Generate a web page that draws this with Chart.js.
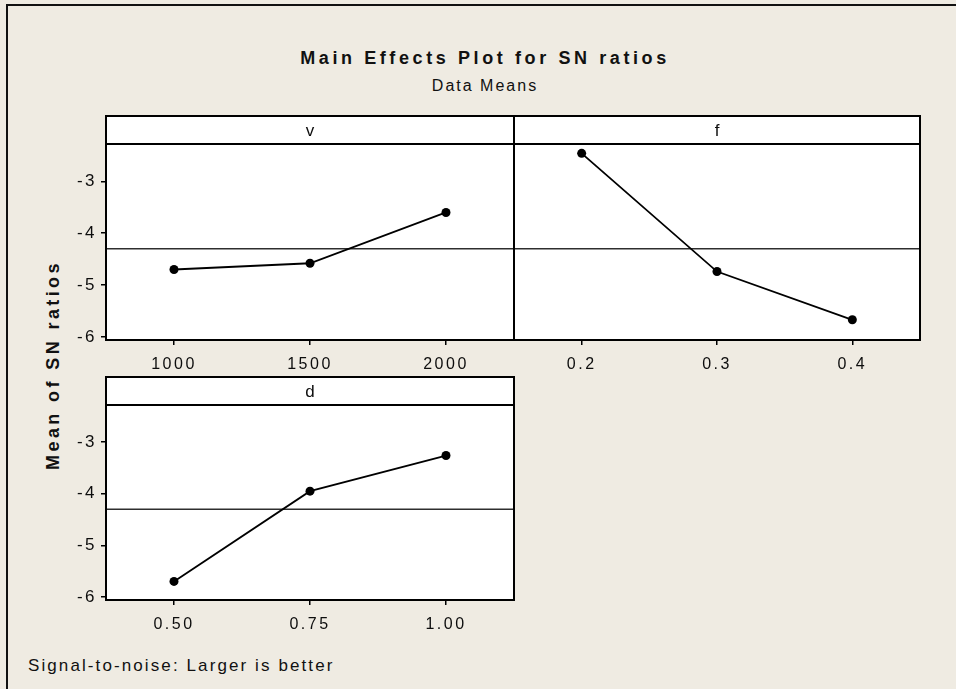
<!DOCTYPE html>
<html>
<head>
<meta charset="utf-8">
<script src="https://cdn.jsdelivr.net/npm/chart.js@4.4.1/dist/chart.umd.min.js"></script>
<style>
  html, body { margin: 0; padding: 0; }
  body {
    width: 956px; height: 689px; position: relative; overflow: hidden;
    background: #EFEBE2; color: #111;
    font-family: 'Liberation Sans', Arial, sans-serif;
  }
  .frame {
    position: absolute; left: 6px; top: 4px; right: -20px; bottom: -20px;
    border-top: 2px solid #111; border-left: 2px solid #111;
  }
  .panel { position: absolute; }
  .txt { position: absolute; white-space: nowrap; line-height: 1; }
  #title { left: 0; width: 970px; top: 49px; text-align: center; font-weight: bold; font-size: 18px; letter-spacing: 3.6px; }
  #subtitle { left: 0; width: 970px; top: 78px; text-align: center; font-size: 16px; letter-spacing: 2px; }
  #ytitle { left: -77px; width: 260px; top: 356px; text-align: center; font-weight: bold; font-size: 18px; letter-spacing: 3.4px; transform: rotate(-90deg); }
  #footer { left: 28px; top: 657px; font-size: 17px; letter-spacing: 2.1px; }
</style>
</head>
<body>
<div class="frame"></div>
<div class="txt" id="title">Main Effects Plot for SN ratios</div>
<div class="txt" id="subtitle">Data Means</div>
<div class="txt" id="ytitle">Mean of SN ratios</div>
<div class="txt" id="footer">Signal-to-noise: Larger is better</div>
<canvas class="panel" id="panel-v"></canvas>
<canvas class="panel" id="panel-f"></canvas>
<canvas class="panel" id="panel-d"></canvas>

<script>
// factor levels and mean SN ratio at each level
const V_LEVELS = [1000, 1500, 2000];
const V_MEANS  = [-4.70, -4.58, -3.60];
const V_TICK_LABELS = ['1000', '1500', '2000'];

const F_LEVELS = [0.2, 0.3, 0.4];
const F_MEANS  = [-2.46, -4.74, -5.67];
const F_TICK_LABELS = ['0.2', '0.3', '0.4'];

const D_LEVELS = [0.50, 0.75, 1.00];
const D_MEANS  = [-5.70, -3.95, -3.26];
const D_TICK_LABELS = ['0.50', '0.75', '1.00'];

const Y_TICKS = [-6, -5, -4, -3];
const Y_TICK_LABELS = ['-6', '-5', '-4', '-3'];
const Y_MIN = -6.06;
const Y_MAX = -2.28;

const GRAND_MEAN = -4.30;

const COLORS = {
  ink:  '#000000',
  mean: '#2e2e2e',
  text: '#0d0d0d',
  plot: '#ffffff',
};

const FONT_FAMILY = "'Liberation Sans', Arial, sans-serif";
const HEADER_H = 28;   // factor name strip above each plot
const AXIS_W = 66;     // room left of the plot for the y labels
const AXIS_H = 40;     // room under the plot for the x labels
const PAD_R = 6;

// white plot + header strip, black frames, factor name
const panelFrame = {
  id: 'panelFrame',
  beforeDraw(chart) {
    const { ctx, chartArea: a } = chart;
    ctx.save();
    ctx.fillStyle = COLORS.plot;
    ctx.fillRect(a.left, a.top - HEADER_H, a.right - a.left, a.bottom - a.top + HEADER_H);
    ctx.restore();
    ctx.letterSpacing = '2.5px';
  },
  afterDraw(chart, args, opts) {
    const { ctx, chartArea: a } = chart;
    ctx.save();
    ctx.letterSpacing = '0px';
    ctx.strokeStyle = COLORS.ink;
    ctx.lineWidth = 2;
    ctx.strokeRect(a.left, a.top - HEADER_H, a.right - a.left, a.bottom - a.top + HEADER_H);
    ctx.beginPath();
    ctx.moveTo(a.left, a.top);
    ctx.lineTo(a.right, a.top);
    ctx.stroke();
    ctx.fillStyle = COLORS.text;
    ctx.font = '17px ' + FONT_FAMILY;
    ctx.textAlign = 'center';
    ctx.textBaseline = 'middle';
    ctx.fillText(opts.label, (a.left + a.right) / 2, a.top - HEADER_H / 2 + 1);
    ctx.restore();
  },
};

function makePanel(id, box, name, levels, means, tickLabels, showY) {
  const canvas = document.getElementById(id);
  const w = AXIS_W + (box.right - box.left) + PAD_R;
  const h = HEADER_H + 6 + (box.bottom - box.top) + AXIS_H;
  canvas.style.left = (box.left - AXIS_W) + 'px';
  canvas.style.top = (box.top - HEADER_H - 6) + 'px';
  canvas.style.width = w + 'px';
  canvas.style.height = h + 'px';

  const step = levels[1] - levels[0];
  const xMin = levels[0] - step / 2;
  const xMax = levels[levels.length - 1] + step / 2;

  return new Chart(canvas, {
    type: 'line',
    data: {
      datasets: [
        {
          data: levels.map((x, i) => ({ x, y: means[i] })),
          borderColor: COLORS.ink,
          borderWidth: 1.8,
          pointRadius: 4.5,
          pointBackgroundColor: COLORS.ink,
          pointBorderWidth: 0,
          order: 0,
        },
        {
          data: [{ x: xMin, y: GRAND_MEAN }, { x: xMax, y: GRAND_MEAN }],
          borderColor: COLORS.mean,
          borderWidth: 1.6,
          pointRadius: 0,
          order: 1,
        },
      ],
    },
    options: {
      responsive: false,
      animation: false,
      layout: { padding: { left: 0, top: HEADER_H + 6, right: PAD_R, bottom: 0 } },
      plugins: {
        legend: { display: false },
        tooltip: { enabled: false },
        panelFrame: { label: name },
      },
      scales: {
        x: {
          type: 'linear',
          min: xMin,
          max: xMax,
          afterBuildTicks: axis => { axis.ticks = levels.map(v => ({ value: v })); },
          afterFit: axis => { axis.height = AXIS_H; },
          grid: { drawOnChartArea: false, drawTicks: true, tickLength: 5, color: COLORS.ink, lineWidth: 1.5 },
          border: { display: false },
          ticks: {
            callback: (v, i) => tickLabels[i],
            color: COLORS.text,
            padding: 10,
            maxRotation: 0,
            font: { family: FONT_FAMILY, size: 16 },
          },
        },
        y: {
          display: showY,
          min: Y_MIN,
          max: Y_MAX,
          afterBuildTicks: axis => { axis.ticks = Y_TICKS.map(v => ({ value: v })); },
          afterFit: axis => { axis.width = AXIS_W; },
          grid: { drawOnChartArea: false, drawTicks: true, tickLength: 5, color: COLORS.ink, lineWidth: 1.5 },
          border: { display: false },
          ticks: {
            callback: (v, i) => Y_TICK_LABELS[i],
            color: COLORS.text,
            padding: 4,
            font: { family: FONT_FAMILY, size: 17 },
          },
        },
      },
    },
    plugins: [panelFrame],
  });
}

makePanel('panel-v', { left: 106, top: 144, right: 514, bottom: 340 }, 'v', V_LEVELS, V_MEANS, V_TICK_LABELS, true);
makePanel('panel-f', { left: 514, top: 144, right: 920, bottom: 340 }, 'f', F_LEVELS, F_MEANS, F_TICK_LABELS, false);
makePanel('panel-d', { left: 106, top: 405, right: 514, bottom: 600 }, 'd', D_LEVELS, D_MEANS, D_TICK_LABELS, true);
</script>
</body>
</html>
